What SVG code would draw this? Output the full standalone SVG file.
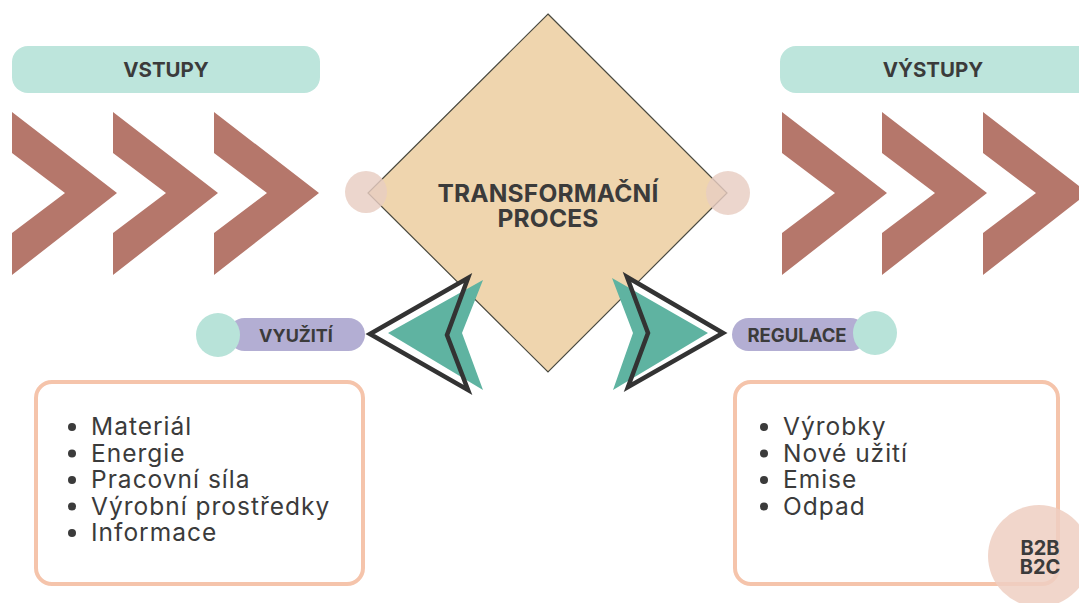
<svg xmlns="http://www.w3.org/2000/svg" xmlns:xlink="http://www.w3.org/1999/xlink" width="1079" height="603" viewBox="0 0 1079 603">
  <style>
    .hdr { fill: #bde5dc; }
    .chev { fill: #b5776b; }
    .title { font-family: Inter, "Liberation Sans", sans-serif; font-weight: 700; fill: #3b3b3b; text-anchor: middle; }
    .item { font-family: Inter, "Liberation Sans", sans-serif; font-size: 24.5px; letter-spacing: 1px; fill: #3b3b3b; }
    .tag { fill: #b3aed3; }
    .dot { fill: #b8e3d9; }
    .port { fill: #e8cdc2; opacity: 0.82; }
    .box { fill: #ffffff; stroke: #f5c4ab; stroke-width: 4; }
    .teal { fill: #5fb3a1; }
    .outline { fill: none; stroke: #333333; stroke-width: 4.5; stroke-linejoin: miter; }
    .bullet { fill: #3b3b3b; }
  </style>
  <defs>
    <!-- one chevron, 105 wide, left edge at x=0 -->
    <path id="chevron" d="M0,112 L105,193 L0,275 L0,233 L53,193 L0,153 Z"/>
  </defs>

  <rect width="1079" height="603" fill="#ffffff"/>

  <!-- inputs -->
  <g id="vstupy">
    <rect class="hdr" x="12" y="46" width="308" height="47" rx="16"/>
    <text class="title" x="166" y="77" font-size="20.5">VSTUPY</text>
  </g>
  <g id="vstupy-chevrons" class="chev">
    <use xlink:href="#chevron" x="12"/>
    <use xlink:href="#chevron" x="113"/>
    <use xlink:href="#chevron" x="214"/>
  </g>

  <!-- outputs -->
  <g id="vystupy">
    <rect class="hdr" x="780" y="46" width="320" height="47" rx="16"/>
    <text class="title" x="933" y="77" font-size="20.5">VÝSTUPY</text>
  </g>
  <g id="vystupy-chevrons" class="chev">
    <use xlink:href="#chevron" x="782"/>
    <use xlink:href="#chevron" x="882"/>
    <use xlink:href="#chevron" x="983"/>
  </g>

  <!-- central process -->
  <g id="proces">
    <polygon points="548,14 727,193 548,372 368,193" fill="#efd5ae" stroke="#4a4a40" stroke-width="1.2"/>
    <text class="title" x="548" y="202" font-size="24.5" letter-spacing="0.2">TRANSFORMAČNÍ</text>
    <text class="title" x="548" y="227" font-size="24.5" letter-spacing="0.2">PROCES</text>
  </g>

  <g id="connectors">
    <circle class="port" cx="366" cy="192" r="21"/>
    <circle class="port" cx="728" cy="193" r="22"/>
    <!-- left arrow -->
    <polygon points="370,334 468,278 447,335 468,390" fill="#ffffff"/>
    <polygon class="teal" points="388,333 483,280 462,333 483,390"/>
    <polygon class="outline" points="370,334 468,278 447,335 468,390"/>
    <!-- right arrow -->
    <polygon points="627,277 723,333 628,387 648,333" fill="#ffffff"/>
    <polygon class="teal" points="612,278 708,333 613,390 633,333"/>
    <polygon class="outline" points="627,277 723,333 628,387 648,333"/>
  </g>

  <g id="vyuziti">
    <rect class="tag" x="228" y="318" width="137" height="33" rx="16.5"/>
    <circle class="dot" cx="218" cy="335" r="22"/>
    <text class="title" x="296" y="342" font-size="18">VYUŽITÍ</text>
  </g>

  <g id="regulace">
    <rect class="tag" x="732" y="318" width="135" height="33" rx="16.5"/>
    <circle class="dot" cx="875" cy="333" r="22"/>
    <text class="title" x="797" y="342" font-size="18.5">REGULACE</text>
  </g>

  <g id="vstupy-seznam">
    <rect class="box" x="36" y="382" width="327" height="202" rx="16"/>
    <g class="bullet">
      <circle cx="72" cy="427" r="4"/>
      <circle cx="72" cy="453.5" r="4"/>
      <circle cx="72" cy="480" r="4"/>
      <circle cx="72" cy="506.5" r="4"/>
      <circle cx="72" cy="533" r="4"/>
    </g>
    <text class="item" x="91" y="435">Materiál</text>
    <text class="item" x="91" y="461.5">Energie</text>
    <text class="item" x="91" y="488">Pracovní síla</text>
    <text class="item" x="91" y="514.5">Výrobní prostředky</text>
    <text class="item" x="91" y="541">Informace</text>
  </g>

  <g id="vystupy-seznam">
    <rect class="box" x="735" y="382" width="323" height="202" rx="16"/>
    <g class="bullet">
      <circle cx="764" cy="427" r="4"/>
      <circle cx="764" cy="453.5" r="4"/>
      <circle cx="764" cy="480" r="4"/>
      <circle cx="764" cy="506.5" r="4"/>
    </g>
    <text class="item" x="783" y="435">Výrobky</text>
    <text class="item" x="783" y="461.5">Nové užití</text>
    <text class="item" x="783" y="488">Emise</text>
    <text class="item" x="783" y="514.5">Odpad</text>
  </g>

  <g id="b2b-b2c">
    <circle cx="1039" cy="556" r="51" fill="#efcfc2" opacity="0.85"/>
    <text class="title" x="1040" y="555" font-size="20">B2B</text>
    <text class="title" x="1040" y="574" font-size="20">B2C</text>
  </g>
</svg>
